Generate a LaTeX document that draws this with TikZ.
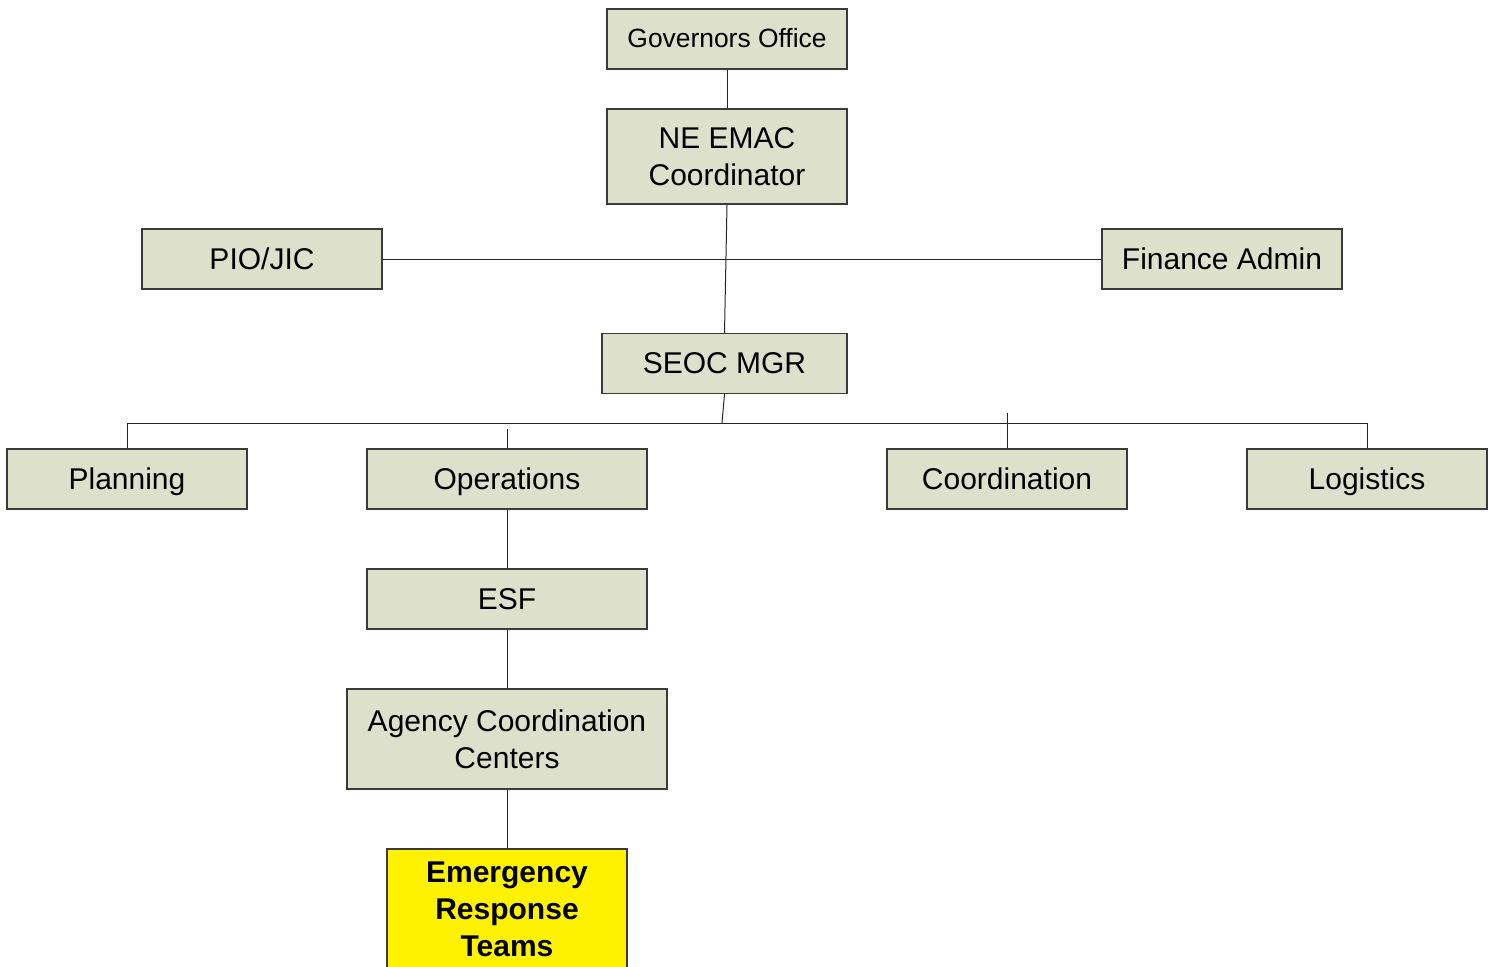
\documentclass[tikz,border=0pt]{standalone}
\usepackage{fontspec}
\setmainfont{Liberation Sans}
\definecolor{boxfill}{HTML}{DDE1CB}
\definecolor{boxline}{HTML}{3A3A3A}
\begin{document}
\begin{tikzpicture}[x=0.5pt,y=-0.5pt,
  orgbox/.style={draw=boxline,line width=0.6pt,fill=boxfill,rectangle,inner sep=0pt,
    align=center,font=\fontsize{15}{18.5}\selectfont,text=black},
  oneline/.style={text height=11pt,text depth=1pt},
  wide/.style={minimum width=120pt,minimum height=30pt},
  link/.style={draw=black!85,line width=0.5pt}]
\useasboundingbox (0,0) rectangle (1494,966);
\begin{scope}
\clip (0,0) rectangle (1494,966);
\node[orgbox,wide,font=\fontsize{13.2}{16}\selectfont,text height=9.7pt,text depth=0.9pt] (gov) at (727,39) {Governors Office};
\node[orgbox,minimum width=120pt,minimum height=47.5pt] (emac) at (727,156.5) {NE EMAC\\Coordinator};
\node[orgbox,wide,oneline] (pio) at (262,259) {PIO/JIC};
\node[orgbox,wide,oneline] (fin) at (1222,259) {Finance Admin};
\node[orgbox,oneline,minimum width=122.5pt,minimum height=30pt] (seoc) at (724.5,363.5) {SEOC MGR};
\node[orgbox,wide,oneline] (plan) at (127,479) {Planning};
\node[orgbox,oneline,minimum width=140pt,minimum height=30pt] (ops) at (507,479) {Operations};
\node[orgbox,wide,oneline] (coord) at (1007,479) {Coordination};
\node[orgbox,wide,oneline] (log) at (1367,479) {Logistics};
\node[orgbox,oneline,minimum width=140pt,minimum height=30pt] (esf) at (507,599) {ESF};
\node[orgbox,minimum width=160pt,minimum height=50pt] (acc) at (507,739) {Agency Coordination\\Centers};
\node[orgbox,fill=yellow,minimum width=120pt,minimum height=60pt,font=\fontsize{15}{18.5}\selectfont\bfseries] (ert) at (507,909) {Emergency\\Response\\Teams};

\coordinate (bus) at (722,423);
\coordinate (busL) at (127,423);
\coordinate (busR) at (1367,423);
\coordinate (opsTop) at (507,429);
\coordinate (coordTop) at (1007,413);

\draw[link] (gov.south) -- (emac.north);
\draw[link] (emac.south) -- (seoc.north);
\draw[link] (pio.east) -- (fin.west);
\draw[link] (seoc.south) -- (bus);
\draw[link] (plan.north) -- (busL) -- (busR) -- (log.north);
\draw[link] (opsTop) -- (ops.north);
\draw[link] (coordTop) -- (coord.north);
\draw[link] (ops.south) -- (esf.north);
\draw[link] (esf.south) -- (acc.north);
\draw[link] (acc.south) -- (ert.north);
\end{scope}
\end{tikzpicture}
\end{document}
